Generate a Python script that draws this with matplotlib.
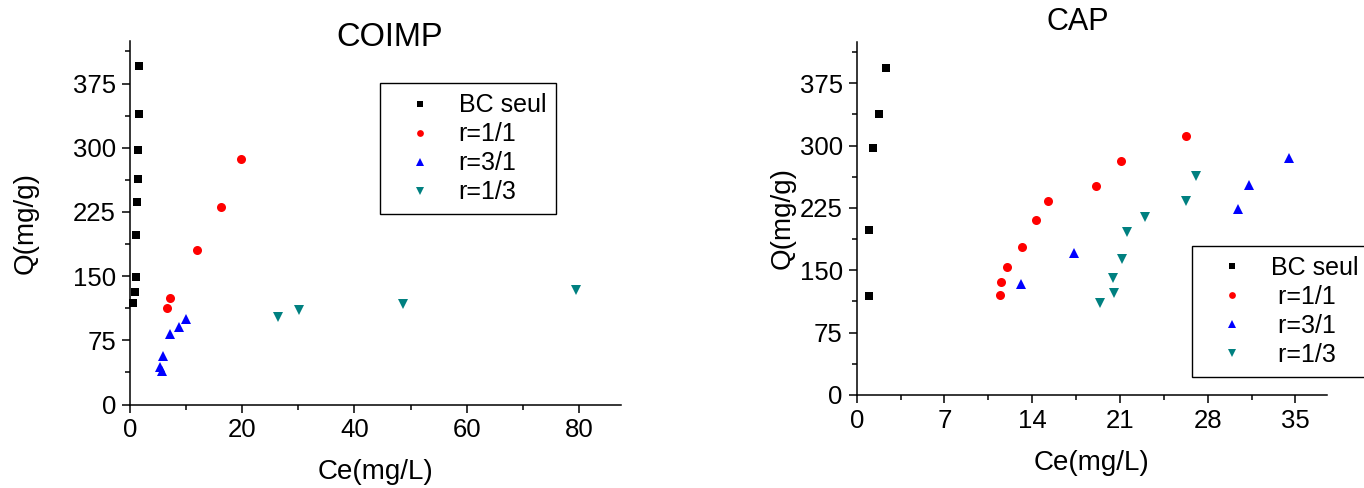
import matplotlib
matplotlib.use("Agg")
import matplotlib.pyplot as plt
from matplotlib.ticker import MultipleLocator

plt.rcParams['font.family'] = ['Liberation Sans', 'DejaVu Sans']

# ---- COIMP data ----
coimp_bc_ce = [1.6, 1.6, 1.5, 1.5, 1.25, 1.1, 1.1, 0.9, 0.6]
coimp_bc_q = [396, 339, 297, 264, 237, 198, 149, 132, 119]
coimp_r11_ce = [19.7, 16.3, 11.9, 7.2, 6.6]
coimp_r11_q = [287, 231, 180, 125, 113]
coimp_r31_ce = [9.9, 8.7, 7.2, 5.9, 5.4, 5.7]
coimp_r31_q = [100, 90, 82, 57, 44, 39]
coimp_r13_ce = [26.3, 30.2, 48.6, 79.5]
coimp_r13_q = [102, 110, 117, 134]

# ---- CAP data ----
cap_bc_ce = [2.3, 1.8, 1.3, 1.0, 1.0]
cap_bc_q = [393, 338, 297, 198, 119]
cap_r11_ce = [26.25, 21.1, 19.1, 15.3, 14.3, 13.15, 12.0, 11.5, 11.4]
cap_r11_q = [312, 282, 252, 233, 211, 178, 154, 136, 120]
cap_r31_ce = [34.5, 31.3, 30.4, 17.3, 13.1]
cap_r31_q = [285, 253, 224, 171, 134]
cap_r13_ce = [27.1, 26.3, 22.97, 21.56, 21.2, 20.45, 20.5, 19.4]
cap_r13_q = [264, 233, 214, 196, 163, 141, 123, 111]

labels = ["BC seul", "r=1/1", "r=3/1", "r=1/3"]
labels_right = ["BC seul", " r=1/1", " r=3/1", " r=1/3"]
colors = ["#000000", "#ff0000", "#0000ff", "#008080"]
markers = ["s", "o", "^", "v"]
msizes = [6, 6.5, 7.5, 7.5]

fig = plt.figure(figsize=(13.64, 4.88), dpi=100)
W, H = 1364, 488

def px_axes(x0, y0, x1, y1):
    return fig.add_axes([x0 / W, 1 - y1 / H, (x1 - x0) / W, (y1 - y0) / H])

ax1 = px_axes(130, 40.7, 621, 404.5)
ax2 = px_axes(856.7, 41.7, 1326.7, 395)

TICK_FS = 18.5
LABEL_FS = 20
TITLE_FS = 22
LEG_FS = 18

def style(ax, xmax, xmajor, xminor, ylab_x):
    ax.set_xlim(0, xmax)
    ax.set_ylim(0, 425)
    ax.xaxis.set_major_locator(MultipleLocator(xmajor))
    ax.xaxis.set_minor_locator(MultipleLocator(xminor))
    ax.yaxis.set_major_locator(MultipleLocator(75))
    ax.yaxis.set_minor_locator(MultipleLocator(37.5))
    for s in ["top", "right"]:
        ax.spines[s].set_visible(False)
    for s in ["left", "bottom"]:
        ax.spines[s].set_linewidth(1.1)
    ax.tick_params(which="major", direction="out", length=6, width=1.1,
                   labelsize=TICK_FS, pad=4)
    ax.tick_params(which="minor", direction="out", length=3.5, width=1.1)
    ax.set_xlabel("Ce(mg/L)", fontsize=LABEL_FS, labelpad=12)
    ax.set_ylabel("Q(mg/g)", fontsize=LABEL_FS, va="center")
    ax.yaxis.set_label_coords(ylab_x, 0.5)

left_sets = [(coimp_bc_ce, coimp_bc_q), (coimp_r11_ce, coimp_r11_q),
             (coimp_r31_ce, coimp_r31_q), (coimp_r13_ce, coimp_r13_q)]
right_sets = [(cap_bc_ce, cap_bc_q), (cap_r11_ce, cap_r11_q),
              (cap_r31_ce, cap_r31_q), (cap_r13_ce, cap_r13_q)]

for (x, y), lab, c, m, ms in zip(left_sets, labels, colors, markers, msizes):
    ax1.plot(x, y, linestyle="none", marker=m, color=c, markersize=ms,
             markeredgewidth=0, label=lab, clip_on=False)
for (x, y), lab, c, m, ms in zip(right_sets, labels_right, colors, markers, msizes):
    ax2.plot(x, y, linestyle="none", marker=m, color=c, markersize=ms,
             markeredgewidth=0, label=lab, clip_on=False)

style(ax1, 87.5, 20, 10, -0.212)
style(ax2, 37.5, 7, 3.5, -0.158)

leg_kw = dict(fontsize=LEG_FS, frameon=True, fancybox=False, framealpha=1,
              edgecolor="black", borderpad=0.4, labelspacing=0.2,
              handlelength=2.4, handletextpad=0.35, markerscale=0.75,
              borderaxespad=0, loc="upper left")
l1 = ax1.legend(bbox_to_anchor=(0.509, 0.883), **leg_kw)
l1.get_frame().set_linewidth(1.0)
l2 = ax2.legend(bbox_to_anchor=(0.713, 0.4217), **leg_kw)
l2.get_frame().set_linewidth(1.0)

fig.text(390 / W, 1 - 38 / H, "COIMP", fontsize=23.5, ha="center", va="center")
fig.text(1078 / W, 1 - 22.5 / H, "CAP", fontsize=TITLE_FS, ha="center", va="center")

fig.savefig("out.png", dpi=100)
